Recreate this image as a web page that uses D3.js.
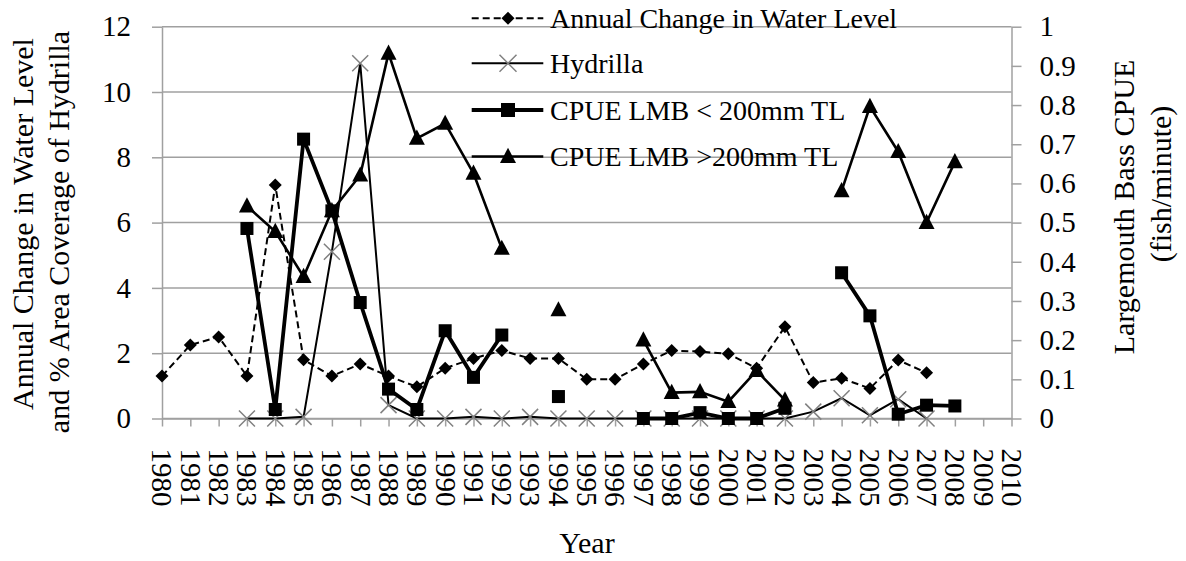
<!DOCTYPE html>
<html>
<head>
<script src="https://d3js.org/d3.v7.min.js"></script>
<style>
body { margin: 0; background: #fff; }
svg text { font-family: "Liberation Serif", "Times New Roman", serif; fill: #000; }
</style>
</head>
<body>
<svg id="chart" width="1186" height="561"></svg>

<script>

// ---- Data (null = no value) ----
const years = ["1980","1981","1982","1983","1984","1985","1986","1987","1988","1989",
               "1990","1991","1992","1993","1994","1995","1996","1997","1998","1999",
               "2000","2001","2002","2003","2004","2005","2006","2007","2008","2009","2010"];

const waterLevel = [1.3, 2.25, 2.5, 1.3, 7.15, 1.8, 1.3, 1.67, 1.3, 0.97,
                    1.54, 1.84, 2.08, 1.84, 1.84, 1.2, 1.2, 1.67, 2.08, 2.05,
                    1.98, 1.54, 2.81, 1.1, 1.23, 0.92, 1.79, 1.4, null, null, null];

const hydrilla = [null, null, null, 0, 0, 0.05, 5.11, 10.88, 0.41, 0,
                  0, 0.05, 0, 0.05, 0, 0, 0, 0, 0, 0,
                  0, 0, 0, 0.21, 0.62, 0.1, 0.59, 0, null, null, null];

const cpueSmall = [null, null, null, 0.485, 0.023, 0.713, 0.53, 0.296, 0.075, 0.023,
                   0.224, 0.105, 0.213, null, 0.056, null, null, 0, 0, 0.015,
                   0, 0, 0.026, null, 0.372, 0.262, 0.011, 0.034, 0.032, null, null];

const cpueLarge = [null, null, null, 0.542, 0.477, 0.362, 0.53, 0.621, 0.932, 0.715,
                   0.753, 0.626, 0.434, null, 0.277, null, null, 0.2, 0.066, 0.068,
                   0.043, 0.122, 0.047, null, 0.581, 0.796, 0.681, 0.5, 0.655, null, null];

const leftTicks = [0, 2, 4, 6, 8, 10, 12];
const rightTicks = [0, 0.1, 0.2, 0.3, 0.4, 0.5, 0.6, 0.7, 0.8, 0.9, 1];

const legendNames = ["Annual Change in Water Level", "Hydrilla", "CPUE LMB < 200mm TL", "CPUE LMB >200mm TL"];

// ---- SVG setup ----
const serif = "Liberation Serif, Times New Roman, serif";
const svg = d3.select("#chart").attr("font-family", serif);
const plotLeft = 162, plotRight = 1011.5, plotTop = 26.7, plotBottom = 418.5;
const grey = "#a0a0a0";

const x = d3.scalePoint().domain(years).range([plotLeft, plotRight]);
const yLeft = d3.scaleLinear().domain([0, 12]).range([plotBottom, plotTop]);
const yRight = d3.scaleLinear().domain([0, 1]).range([plotBottom, plotTop]);

// gridlines
svg.append("g").selectAll("line").data(leftTicks).join("line")
   .attr("x1", plotLeft).attr("x2", plotRight)
   .attr("y1", d => yLeft(d)).attr("y2", d => yLeft(d))
   .attr("stroke", grey).attr("stroke-width", 1.5);

// axes
const axisL = svg.append("g").attr("transform", `translate(${plotLeft},0)`)
   .call(d3.axisLeft(yLeft).tickValues(leftTicks).tickSizeInner(10).tickSizeOuter(0).tickPadding(21));

const axisR = svg.append("g").attr("transform", `translate(${plotRight},0)`)
   .call(d3.axisRight(yRight).tickValues(rightTicks).tickSizeInner(10).tickSizeOuter(0).tickPadding(18)
         .tickFormat(d => String(+d.toFixed(1))));

const axisB = svg.append("g").attr("transform", `translate(0,${plotBottom})`)
   .call(d3.axisBottom(x).tickSizeInner(8).tickSizeOuter(0));

axisB.selectAll("text")
     .attr("transform", "rotate(90)")
     .attr("x", 30).attr("y", 0).attr("dy", "0.35em")
     .style("text-anchor", "start");

[axisL, axisR, axisB].forEach(a => {
    a.attr("font-family", serif).attr("font-size", 29);
    a.selectAll("path.domain").attr("stroke", grey).attr("stroke-width", 1.5);
    a.selectAll(".tick line").attr("stroke", grey).attr("stroke-width", 1.5);
    a.selectAll("text").attr("fill", "#000");
});

// ---- Marker shapes ----
function marker(g, type, cx, cy, s) {
    if (type === "diamond") {
        g.append("path").attr("d", `M${cx},${cy - s/2}L${cx + s/2},${cy}L${cx},${cy + s/2}L${cx - s/2},${cy}Z`)
         .attr("fill", "#000");
    } else if (type === "square") {
        g.append("rect").attr("x", cx - s/2).attr("y", cy - s/2).attr("width", s).attr("height", s)
         .attr("fill", "#000");
    } else if (type === "triangle") {
        g.append("path").attr("d", `M${cx},${cy - s*0.55}L${cx + s/2},${cy + s*0.4}L${cx - s/2},${cy + s*0.4}Z`)
         .attr("fill", "#000");
    } else if (type === "cross") {
        g.append("path").attr("d", `M${cx - s/2},${cy - s/2}L${cx + s/2},${cy + s/2}M${cx - s/2},${cy + s/2}L${cx + s/2},${cy - s/2}`)
         .attr("stroke", "#808080").attr("stroke-width", 1.5).attr("fill", "none");
    }
}

const series = [
    { name: legendNames[0], values: waterLevel, y: yLeft,  width: 2,   dash: "7,4", type: "diamond",  size: 13 },
    { name: legendNames[1], values: hydrilla,   y: yLeft,  width: 2,   dash: null,  type: "cross",    size: 16 },
    { name: legendNames[3], values: cpueLarge,  y: yRight, width: 2.6, dash: null,  type: "triangle", size: 16 },
    { name: legendNames[2], values: cpueSmall,  y: yRight, width: 3.8, dash: null,  type: "square",   size: 13 }
];

series.forEach(s => {
    const pts = years.map((yr, i) => ({ yr: yr, v: s.values[i] }));
    const line = d3.line().defined(d => d.v != null).x(d => x(d.yr)).y(d => s.y(d.v));
    const g = svg.append("g");
    g.append("path").datum(pts).attr("d", line)
     .attr("fill", "none").attr("stroke", "#000").attr("stroke-width", s.width)
     .attr("stroke-dasharray", s.dash).attr("stroke-linejoin", "miter");
    pts.filter(d => d.v != null).forEach(d => marker(g, s.type, x(d.yr), s.y(d.v), s.size));
});

// ---- Legend ----
const legendRows = [
    { name: legendNames[0], width: 2,   dash: "7,4", type: "diamond",  size: 13 },
    { name: legendNames[1], width: 2,   dash: null,  type: "cross",    size: 17 },
    { name: legendNames[2], width: 3.8, dash: null,  type: "square",   size: 14 },
    { name: legendNames[3], width: 2.6, dash: null,  type: "triangle", size: 16 }
];
const legendY = [18.3, 63.3, 110, 156.5];

legendRows.forEach((r, i) => {
    const g = svg.append("g");
    g.append("line").attr("x1", 471.7).attr("x2", 543.3).attr("y1", legendY[i]).attr("y2", legendY[i])
     .attr("stroke", "#000").attr("stroke-width", r.width).attr("stroke-dasharray", r.dash);
    marker(g, r.type, 508, legendY[i], r.size);
    g.append("text").attr("x", 550).attr("y", legendY[i]).attr("dy", "0.35em")
     .attr("font-size", 28).text(r.name);
});

// ---- Axis titles ----
svg.append("text").attr("transform", "translate(33,224) rotate(-90)")
   .attr("text-anchor", "middle").attr("font-size", 30).text("Annual Change in Water Level");
svg.append("text").attr("transform", "translate(69,232) rotate(-90)")
   .attr("text-anchor", "middle").attr("font-size", 30).text("and % Area Coverage of Hydrilla");

svg.append("text").attr("transform", "translate(1134,207) rotate(-90)")
   .attr("text-anchor", "middle").attr("font-size", 30).text("Largemouth Bass CPUE");
svg.append("text").attr("transform", "translate(1171,184) rotate(-90)")
   .attr("text-anchor", "middle").attr("font-size", 30).text("(fish/minute)");

svg.append("text").attr("x", 587).attr("y", 553)
   .attr("text-anchor", "middle").attr("font-size", 30).text("Year");

</script>
</body>
</html>
